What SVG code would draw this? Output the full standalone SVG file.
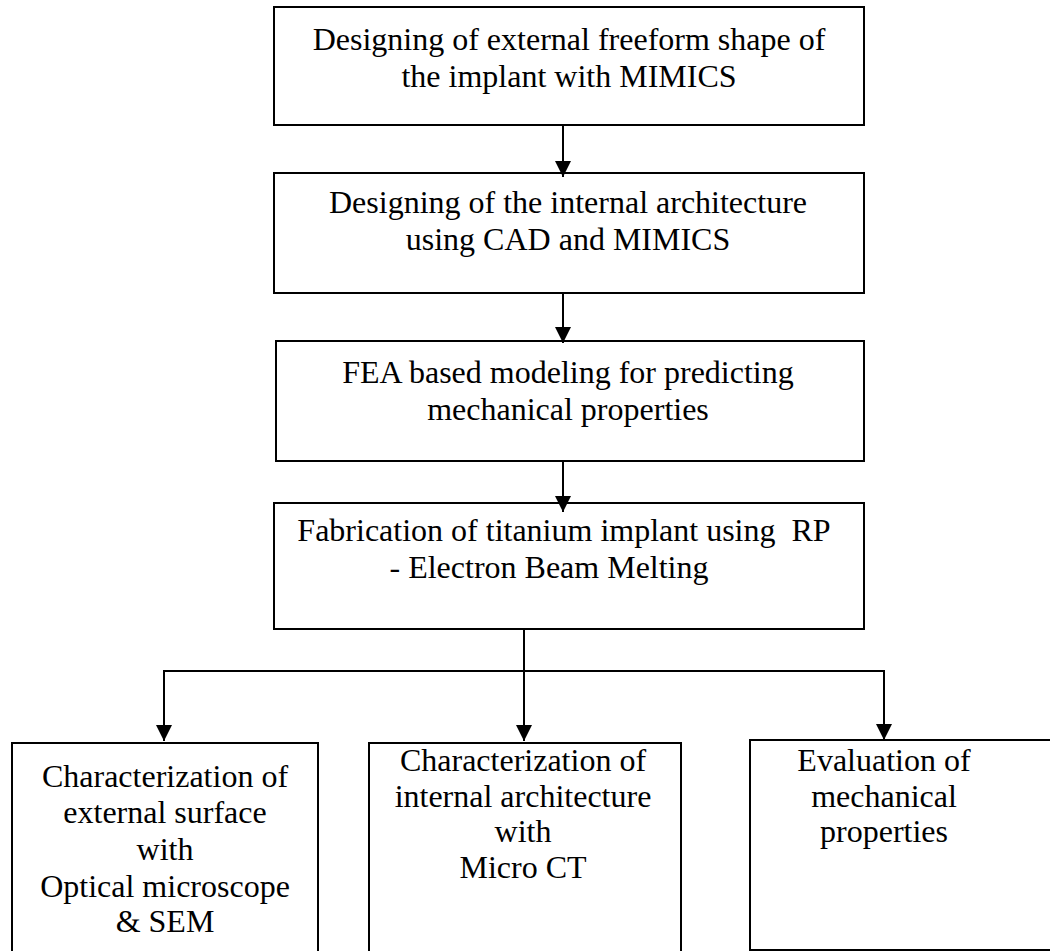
<svg xmlns="http://www.w3.org/2000/svg" width="1050" height="951" viewBox="0 0 1050 951">
<style>
.box{fill:#fff;stroke:#000;stroke-width:2}
.t{font-family:"Liberation Serif","Times New Roman",serif;font-size:32px;fill:#000;text-anchor:middle}
.c{stroke:#000;stroke-width:2;fill:none}
</style>
<defs>
<marker id="ah" viewBox="0 0 16 16" refX="16" refY="8" markerWidth="16" markerHeight="16" markerUnits="userSpaceOnUse" orient="auto">
<path d="M0,0 L16,8 L0,16 Z" fill="#000"/>
</marker>
</defs>
<rect width="1050" height="951" fill="#fff"/>
<g id="n1"><rect class="box" x="274" y="7" width="590" height="118"/>
<text class="t" x="569" y="50">Designing of external freeform shape of</text>
<text class="t" x="569" y="87">the implant with MIMICS</text></g>
<g id="n2"><rect class="box" x="274" y="173" width="590" height="120"/>
<text class="t" x="568" y="213">Designing of the internal architecture</text>
<text class="t" x="568" y="250">using CAD and MIMICS</text></g>
<g id="n3"><rect class="box" x="276" y="341" width="588" height="120"/>
<text class="t" x="568" y="383">FEA based modeling for predicting</text>
<text class="t" x="568" y="420">mechanical properties</text></g>
<g id="n4"><rect class="box" x="274" y="503" width="590" height="126"/>
<text class="t" x="564" y="541" xml:space="preserve">Fabrication of titanium implant using  RP</text>
<text class="t" x="549" y="578">- Electron Beam Melting</text></g>
<g id="n5"><rect class="box" x="12" y="743" width="306" height="220"/>
<text class="t" x="165" y="787">Characterization of</text>
<text class="t" x="165" y="823">external surface</text>
<text class="t" x="165" y="860">with</text>
<text class="t" x="165" y="897">Optical microscope</text>
<text class="t" x="165" y="932">&amp; SEM</text></g>
<g id="n6"><rect class="box" x="369" y="743" width="312" height="220"/>
<text class="t" x="523" y="771">Characterization of</text>
<text class="t" x="523" y="807">internal architecture</text>
<text class="t" x="523" y="842">with</text>
<text class="t" x="523" y="878">Micro CT</text></g>
<g id="n7"><rect class="box" x="750" y="740" width="320" height="210" style="stroke:#000"/>
<text class="t" x="884" y="771">Evaluation of</text>
<text class="t" x="884" y="807">mechanical</text>
<text class="t" x="884" y="842">properties</text></g>
<g id="connectors">
<line class="c" x1="563" y1="125" x2="563" y2="177" marker-end="url(#ah)"/>
<line class="c" x1="563" y1="293" x2="563" y2="343" marker-end="url(#ah)"/>
<line class="c" x1="563" y1="461" x2="563" y2="512" marker-end="url(#ah)"/>
<line class="c" x1="524" y1="629" x2="524" y2="741" marker-end="url(#ah)"/>
<polyline class="c" points="164,741 164,671 884,671 884,740"/>
<line class="c" x1="164" y1="671" x2="164" y2="741" marker-end="url(#ah)"/>
<line class="c" x1="884" y1="671" x2="884" y2="740" marker-end="url(#ah)"/>
</g>
</svg>
